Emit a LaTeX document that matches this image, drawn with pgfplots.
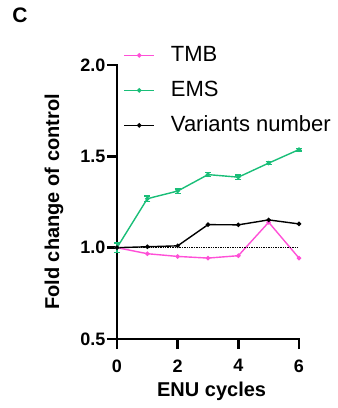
\documentclass[border=0pt]{standalone}
\usepackage{fontspec}
\setmainfont{Liberation Sans}
\usepackage{pgfplots}
\pgfplotsset{compat=1.18}
\definecolor{emsgreen}{RGB}{25,190,120}
\definecolor{tmbpink}{RGB}{255,80,215}
\begin{document}
\begin{tikzpicture}
\path[use as bounding box] (-117pt,-69pt) rectangle (221pt,339pt);
\node[font=\bfseries\fontsize{21}{21}\selectfont] at (-97pt,324pt) {C};
\begin{axis}[
  scale only axis,
  width=182pt, height=274pt,
  xmin=0, xmax=6, ymin=0.5, ymax=2.0,
  clip=false,
  axis x line=bottom, axis y line=left,
  axis line style={-, line width=2.5pt, line cap=rect},
  xtick={0,2,4,6}, ytick={0.5,1.0,1.5,2.0},
  minor tick num=0,
  tick align=outside,
  major tick length=10pt,
  every tick/.style={black, line width=2.5pt},
  /pgf/number format/assume math mode=true,
  yticklabel style={/pgf/number format/fixed, /pgf/number format/fixed zerofill, /pgf/number format/precision=1, xshift=2pt},
  xticklabel style={yshift=-7pt},
  ticklabel style={font=\bfseries\fontsize{18}{18}\selectfont},
  xlabel={ENU cycles},
  ylabel={Fold change of control},
  every axis x label/.style={at={(axis description cs:0.52,-0.19)}, anchor=center, font=\bfseries\fontsize{20}{20}\selectfont},
  every axis y label/.style={at={(axis description cs:-0.346,0.5)}, rotate=90, anchor=center, font=\bfseries\fontsize{20}{20}\selectfont},
  legend style={draw=none, fill=none, at={(axis description cs:0.035,1.08)}, anchor=north west,
    font=\fontsize{22}{22}\selectfont, row sep=11pt, column sep=14pt, inner sep=0pt,
    nodes={inner sep=2pt, text height=16pt, text depth=4pt}},
  legend cell align=left,
  legend image code/.code={\draw[mark repeat=2, mark phase=2] plot coordinates {(0pt,0pt) (15pt,0pt) (30pt,0pt)};},
  every axis plot/.append style={line width=1.4pt, mark=*, mark size=1.5pt},
]
\addplot[tmbpink, mark options={fill=tmbpink, draw=tmbpink}] coordinates {
(0,1.0) (1,0.967) (2,0.952) (3,0.943) (4,0.956) (5,1.139) (6,0.943)};
\addlegendentry{TMB}
\addplot[emsgreen, mark options={fill=emsgreen, draw=emsgreen},
  error bars/.cd, y dir=both, y explicit,
  error bar style={line width=1.4pt},
  error mark options={rotate=90, mark size=3pt, line width=1.4pt}] coordinates {
(0,1.0) +- (0,0.025)
(1,1.268) +- (0,0.015)
(2,1.31) +- (0,0.012)
(3,1.40) +- (0,0.012)
(4,1.386) +- (0,0.012)
(5,1.463) +- (0,0.009)
(6,1.537) +- (0,0.007)};
\addlegendentry{EMS}
\addplot[black, mark options={fill=black, draw=black}] coordinates {
(0,1.0) (1,1.005) (2,1.01) (3,1.126) (4,1.125) (5,1.152) (6,1.13)};
\addlegendentry{Variants number}
\addplot[black, densely dotted, line width=1.4pt, mark=none, forget plot] coordinates {(0,1.0) (6,1.0)};
\end{axis}
\end{tikzpicture}
\end{document}
